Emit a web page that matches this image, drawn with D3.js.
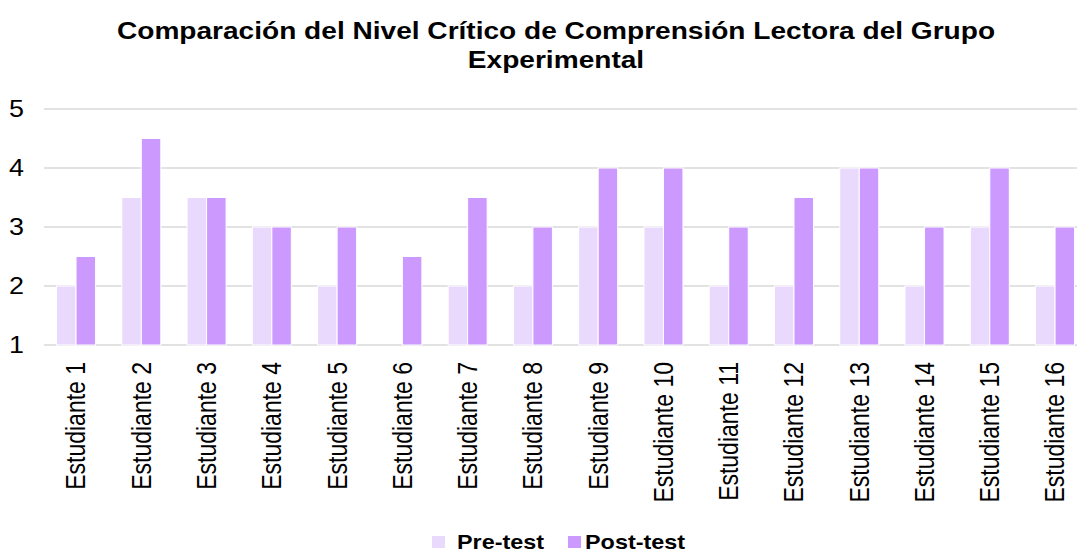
<!DOCTYPE html>
<html>
<head>
<meta charset="utf-8">
<script src="https://cdn.jsdelivr.net/npm/d3@7/dist/d3.min.js"></script>
<style>
  html, body { margin:0; padding:0; background:#fff; }
  svg { display:block; font-family:Arial, "Liberation Sans", sans-serif; }
</style>
</head>
<body>
<div id="chart"></div>
<script>
// data
const students = [
  "Estudiante 1","Estudiante 2","Estudiante 3","Estudiante 4",
  "Estudiante 5","Estudiante 6","Estudiante 7","Estudiante 8",
  "Estudiante 9","Estudiante 10","Estudiante 11","Estudiante 12",
  "Estudiante 13","Estudiante 14","Estudiante 15","Estudiante 16"
];
const preTest  = [2, 3.5, 3.5, 3, 2, 1, 2, 2, 3, 3, 2, 2, 4, 2, 3, 2];
const postTest = [2.5, 4.5, 3.5, 3, 3, 2.5, 3.5, 3, 4, 4, 3, 3.5, 4, 3, 4, 3];
const yTicks = [1, 2, 3, 4, 5];
const seriesNames = ["Pre-test", "Post-test"];

const width = 1077, height = 554;
const sx = 1.17; // text in the reference is stretched horizontally
const colors = { "Pre-test": "#e9d9fd", "Post-test": "#cc99ff" };

const svg = d3.select("#chart").append("svg")
  .attr("width", width).attr("height", height);

// title
const titleLines = [
  "Comparación del Nivel Crítico de Comprensión Lectora del Grupo",
  "Experimental"
];
titleLines.forEach((t, i) => {
  svg.append("g")
    .attr("transform", `translate(556,${39 + i * 29}) scale(${sx},1)`)
    .append("text")
    .attr("text-anchor", "middle")
    .attr("font-size", 24)
    .attr("font-weight", "bold")
    .attr("fill", "#000")
    .text(t);
});

const y = d3.scaleLinear().domain([1, 5]).range([345, 109]);
const x = d3.scaleBand().domain(students).range([43.4, 1087.7]).padding(0);
const barW = 19.5;
const x1 = d3.scaleBand().domain(seriesNames)
  .range([0, barW * 2]).padding(0);

// gridlines
svg.append("g")
  .selectAll("line")
  .data(yTicks)
  .join("line")
  .attr("x1", 44).attr("x2", width)
  .attr("y1", d => y(d)).attr("y2", d => y(d))
  .attr("stroke", "#d9d9d9")
  .attr("stroke-width", 1.5);

// y tick labels
svg.append("g")
  .selectAll("g")
  .data(yTicks)
  .join("g")
  .attr("transform", d => `translate(24,${y(d)}) scale(${sx},1)`)
  .append("text")
  .attr("text-anchor", "end")
  .attr("dy", "0.36em")
  .attr("font-size", 23)
  .attr("fill", "#000")
  .text(d => d);

// bars
const rows = students.map((s, i) => ({ s, vals: [
  { k: "Pre-test", v: preTest[i] },
  { k: "Post-test", v: postTest[i] }
]}));

const groups = svg.append("g")
  .selectAll("g")
  .data(rows)
  .join("g")
  .attr("transform", d => `translate(${x(d.s) + x.bandwidth() / 2 - barW},0)`);

groups.selectAll("rect")
  .data(d => d.vals)
  .join("rect")
  .attr("x", d => x1(d.k))
  .attr("width", x1.bandwidth())
  .attr("y", d => y(d.v))
  .attr("height", d => y(1) - y(d.v))
  .attr("fill", d => colors[d.k])
  .attr("stroke", "#fff")
  .attr("stroke-width", d => d.v > 1 ? 1 : 0);

// category labels, rotated
svg.append("g")
  .selectAll("g")
  .data(students)
  .join("g")
  .attr("transform", d =>
    `translate(${x(d) + x.bandwidth() / 2},362) scale(${sx},1) rotate(-90)`)
  .append("text")
  .attr("text-anchor", "end")
  .attr("dy", "0.35em")
  .attr("font-size", 23)
  .attr("fill", "#000")
  .text(d => d);

// legend
const legendItems = [
  { k: "Pre-test", sq: 432, tx: 457 },
  { k: "Post-test", sq: 568, tx: 585 }
];
const lg = svg.append("g")
  .selectAll("g")
  .data(legendItems)
  .join("g");
lg.append("rect")
  .attr("x", d => d.sq).attr("y", 536)
  .attr("width", 13).attr("height", 12)
  .attr("fill", d => colors[d.k]);
lg.append("g")
  .attr("transform", d => `translate(${d.tx},549) scale(${sx},1)`)
  .append("text")
  .attr("font-size", 20)
  .attr("font-weight", "bold")
  .attr("fill", "#000")
  .text(d => d.k);
</script>
</body>
</html>
